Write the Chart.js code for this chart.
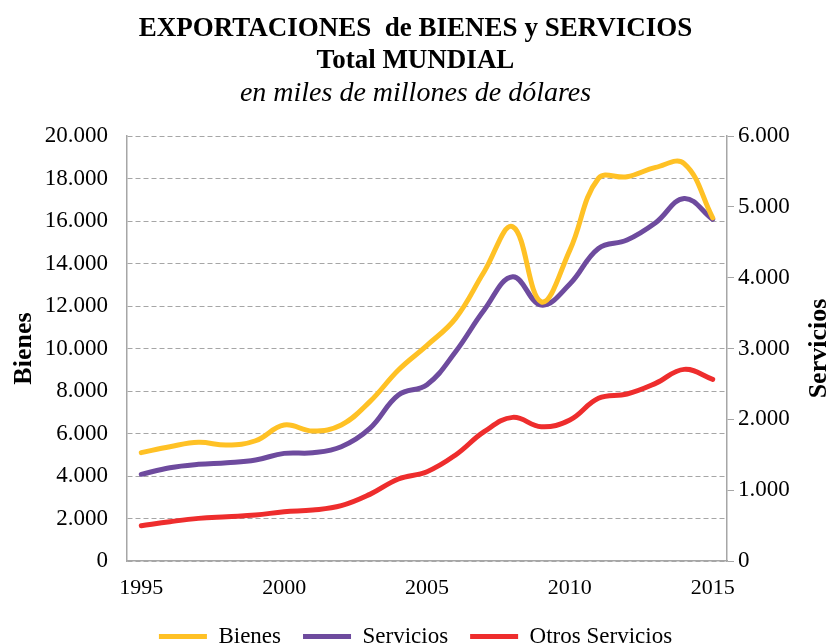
<!DOCTYPE html>
<html><head><meta charset="utf-8">
<script src="https://cdn.jsdelivr.net/npm/chart.js@4.4.1/dist/chart.umd.min.js"></script>
<style>html,body{margin:0;padding:0;background:#fff;overflow:hidden}</style>
</head><body>
<canvas id="c" width="831" height="643" style="width:831px;height:643px;display:block"></canvas>
<script>
const years = ['1995','1996','1997','1998','1999','2000','2001','2002','2003','2004','2005','2006','2007','2008','2009','2010','2011','2012','2013','2014','2015'];
const bienes = [5100,5380,5585,5460,5660,6400,6120,6400,7500,8990,10150,11420,13615,15730,12200,14635,18010,18085,18525,18710,16150];
const servicios = [1224,1318,1365,1388,1426,1520,1529,1614,1873,2344,2490,2955,3544,4014,3614,3911,4414,4532,4776,5120,4824];
const otrosServicios = [499,555,602,626,649,696,720,781,941,1158,1261,1497,1826,2028,1896,1991,2297,2358,2508,2706,2565];
const xTickLabels = ['1995','2000','2005','2010','2015'];
const seriesNames = ['Bienes','Servicios','Otros Servicios'];
const titleLines = ['EXPORTACIONES  de BIENES y SERVICIOS','Total MUNDIAL'];
const subtitleText = 'en miles de millones de dólares';
const leftAxisTitle = 'Bienes';
const rightAxisTitle = 'Servicios';

const SERIF = '"Liberation Serif","Times New Roman",serif';
const fmt = v => String(v).replace(/\B(?=(\d{3})+(?!\d))/g, '.');
const GRID = '#a6a6a6';

const rightTitlePlugin = {
  id: 'rightTitle',
  afterDraw(chart) {
    const s = chart.scales.y2, ctx = chart.ctx;
    ctx.save();
    ctx.translate(s.right - 12, (s.top + s.bottom) / 2);
    ctx.rotate(-Math.PI / 2);
    ctx.font = 'bold 26px ' + SERIF;
    ctx.textAlign = 'center';
    ctx.textBaseline = 'middle';
    ctx.fillStyle = '#000';
    ctx.fillText(rightAxisTitle, 0, 0);
    ctx.restore();
  }
};

new Chart(document.getElementById('c'), {
  type: 'line',
  data: {
    labels: years,
    datasets: [
      {label: seriesNames[0], data: bienes, yAxisID: 'y', borderColor: '#FFC125', backgroundColor: '#FFC125'},
      {label: seriesNames[1], data: servicios, yAxisID: 'y2', borderColor: '#6E4B9E', backgroundColor: '#6E4B9E'},
      {label: seriesNames[2], data: otrosServicios, yAxisID: 'y2', borderColor: '#EE2D2D', backgroundColor: '#EE2D2D'}
    ].map(d => Object.assign(d, {borderWidth: 5, tension: 0.4, pointRadius: 0, borderCapStyle: 'round', borderJoinStyle: 'round', fill: false}))
  },
  options: {
    responsive: false,
    animation: false,
    devicePixelRatio: 1,
    layout: {padding: {left: 0, right: 0, top: 0, bottom: -15}},
    plugins: {
      title: {display: true, text: titleLines, color: '#000', font: {family: SERIF, size: 27, weight: 'bold', lineHeight: 1.15}, padding: {top: 14, bottom: 0}},
      subtitle: {display: true, text: subtitleText, color: '#000', font: {family: SERIF, size: 28, style: 'italic', weight: 'normal', lineHeight: 1.2}, padding: {top: 0.7, bottom: 25.7}},
      legend: {position: 'bottom', labels: {usePointStyle: true, pointStyle: 'line', pointStyleWidth: 48, boxHeight: 23, padding: 22, color: '#000', font: {family: SERIF, size: 23}}},
      tooltip: {enabled: false}
    },
    scales: {
      x: {
        offset: true,
        grid: {display: false, drawTicks: false},
        border: {display: true, color: GRID, width: 1.5},
        ticks: {autoSkip: false, maxRotation: 0, padding: 14, color: '#000', font: {family: SERIF, size: 22},
          callback: function(v, i) { const l = this.getLabelForValue(v); return xTickLabels.includes(l) ? l : ''; }},
        afterFit: s => { s.height = 42; }
      },
      y: {
        position: 'left', min: 0, max: 20000,
        ticks: {stepSize: 2000, padding: 19, color: '#000', font: {family: SERIF, size: 23}, callback: v => fmt(v)},
        grid: {color: GRID, lineWidth: 1, drawTicks: false},
        border: {display: true, color: GRID, width: 1.5, dash: [5, 3]},
        title: {display: true, text: leftAxisTitle, color: '#000', font: {family: SERIF, size: 26, weight: 'bold', lineHeight: 1}, padding: {top: 11, bottom: 0}},
        afterFit: s => { s.width = 127; }
      },
      y2: {
        position: 'right', min: 0, max: 6000,
        ticks: {stepSize: 1000, padding: 4, color: '#000', font: {family: SERIF, size: 23}, callback: v => fmt(v)},
        grid: {drawOnChartArea: false, drawTicks: true, tickLength: 7, color: GRID, tickColor: GRID},
        border: {display: true, color: GRID, width: 1.5},
        afterFit: s => { s.width = 104; }
      }
    }
  },
  plugins: [rightTitlePlugin]
});
</script>
</body></html>
